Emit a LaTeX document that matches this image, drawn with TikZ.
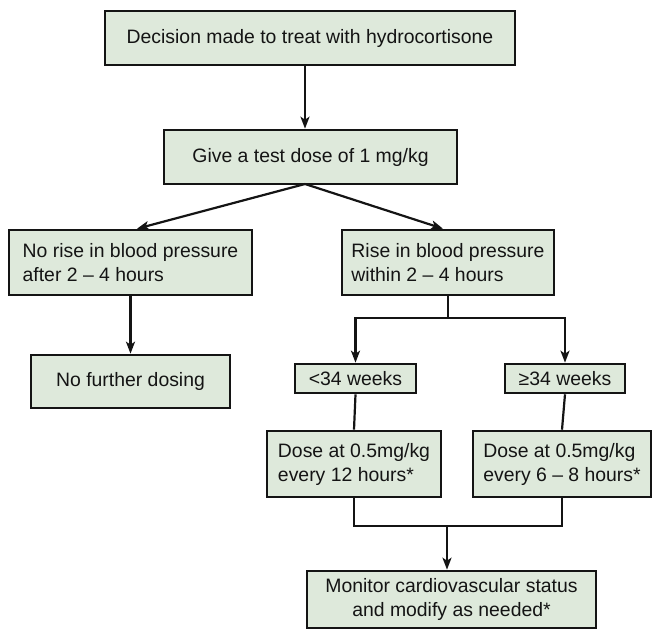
\documentclass[tikz,border=0pt]{standalone}
\usepackage{fontspec}
\setmainfont{Liberation Sans}
\usetikzlibrary{arrows.meta}
\definecolor{boxfill}{HTML}{DEE9DB}
\definecolor{ink}{HTML}{141414}
\begin{document}
\begin{tikzpicture}[x=1pt,y=1pt,
  fbox/.style={draw=ink,fill=boxfill,line width=2.6pt,inner sep=0pt,
    font=\fontsize{19.4}{24}\selectfont,text=ink},
  conn/.style={draw=ink,line width=2.2pt},
  arr/.style={conn,-{Stealth[length=12pt,width=9pt,inset=3pt]}}]
\useasboundingbox (0,0) rectangle (659,-631);
\node[fbox,minimum width=410,minimum height=54] (b1) at (310,-38) {Decision made to treat with hydrocortisone};
\node[fbox,minimum width=293,minimum height=54] (b2) at (310.5,-157) {Give a test dose of 1 mg/kg};
\node[fbox,minimum width=243,minimum height=65,align=left] (L) at (130.5,-262.5) {No rise in blood pressure\\after 2 – 4 hours};
\node[fbox,minimum width=212,minimum height=65,align=left] (R) at (448,-262.5) {Rise in blood pressure\\within 2 – 4 hours};
\node[fbox,minimum width=199,minimum height=53] (nfd) at (130.5,-381.5) {No further dosing};
\node[fbox,minimum width=121,minimum height=29] (lt) at (355.5,-378.5) {<34 weeks};
\node[fbox,minimum width=120,minimum height=29] (ge) at (565,-378.5) {≥34 weeks};
\node[fbox,minimum width=174,minimum height=66,align=left] (d1) at (354,-464) {Dose at 0.5mg/kg\\every 12 hours*};
\node[fbox,minimum width=178,minimum height=66,align=left] (d2) at (562,-464) {Dose at 0.5mg/kg\\every 6 – 8 hours*};
\node[fbox,minimum width=289,minimum height=57,align=center] (mon) at (451.5,-599.5) {Monitor cardiovascular status\\and modify as needed*};
\coordinate (s1) at (305,-184);
\coordinate (rj) at (448,-318);
\coordinate (mj) at (447,-526);
\draw[arr] (s1 |- b1.south) -- (s1 |- b2.north);
\draw[arr] (s1) -- ([xshift=6.5pt]L.north);
\draw[arr] (s1) -- ([xshift=-5pt]R.north);
\draw[arr] (L.south) -- (nfd.north);
\draw[conn] (R.south) -- (rj);
\draw[arr] (rj) -| (lt.north);
\draw[arr] (rj) -| (ge.north);
\draw[conn] (lt.south) -- (d1.north);
\draw[conn] (ge.south) -- (d2.north);
\draw[conn] (d1.south) |- (mj) -| (d2.south);
\draw[arr] (mj) -- (mj |- mon.north);
\end{tikzpicture}
\end{document}
